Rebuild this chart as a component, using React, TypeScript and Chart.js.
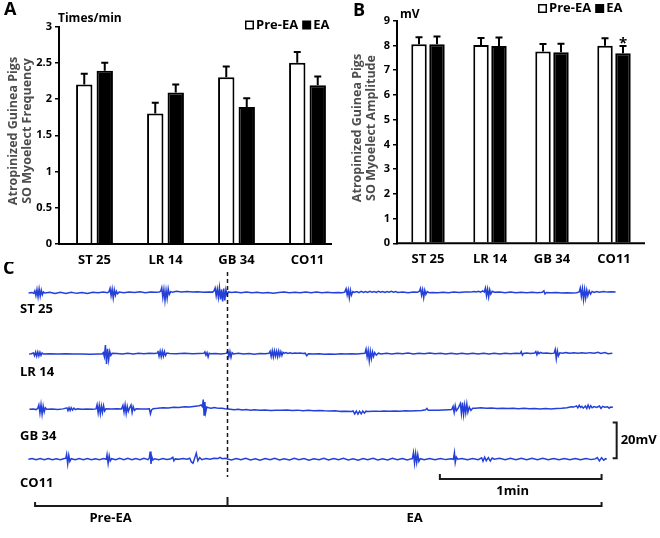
import React, { useEffect, useRef } from 'react';
import { Chart, registerables } from 'chart.js';

Chart.register(...registerables);

const FONT = "'Open Sans', 'DejaVu Sans', sans-serif";

// ---------- Panels A & B data ----------
const SITES = ['ST 25', 'LR 14', 'GB 34', 'CO11'];
const SERIES = ['Pre-EA', 'EA'];

const FREQ_PRE = [2.2, 1.8, 2.3, 2.5];
const FREQ_EA = [2.39, 2.09, 1.89, 2.19];
const FREQ_PRE_ERR = [0.15, 0.15, 0.15, 0.15];
const FREQ_EA_ERR = [0.11, 0.11, 0.12, 0.12];
const FREQ_MAX = 3;
const FREQ_STEP = 0.5;
const FREQ_TITLE = ['Atropinized Guinea Pigs', 'SO Myoelect Frequency'];
const FREQ_UNIT = 'Times/min';

const AMP_PRE = [8.05, 8.02, 7.75, 7.99];
const AMP_EA = [8.05, 7.98, 7.72, 7.68];
const AMP_PRE_ERR = [0.28, 0.28, 0.31, 0.3];
const AMP_EA_ERR = [0.31, 0.34, 0.35, 0.3];
const AMP_SIG = [false, false, false, true];
const AMP_MAX = 9;
const AMP_STEP = 1;
const AMP_TITLE = ['Atropinized Guinea Pigs', 'SO Myoelect Amplitude'];
const AMP_UNIT = 'mV';

// ---------- Panel C data (time in s, voltage in mV relative to each baseline) ----------
const TRACE_NAMES = ['ST 25', 'LR 14', 'GB 34', 'CO11'];
const TRACE_OFFSETS = [0, -34.3, -65.3, -93.4];
const EA_ONSET = 0;
const PRE_START = -71.4;
const EA_END = 138.8;
const TIME_BAR_S = 60;
const VOLT_BAR_MV = 20;

const TRACE_ST25: [number, number][] = [
  [-73.8, 0], [-72.6, 0.3], [-71.9, -0.2],
  [-71.5, 1.2], [-71.1, -1.5], [-70.7, 2.0], [-70.3, -2.2], [-69.9, 2.3], [-69.5, -1.8], [-69.1, 1.6], [-68.7, -1.0], [-68.3, 0.6], [-67.8, 0],
  [-66, 0.4], [-64, -0.3], [-62, 0.4], [-60, -0.3], [-58, 0.4], [-56, -0.2], [-54, 0.3], [-52, -0.3], [-50, 0.4], [-48, 0.1], [-46, 0.5], [-44.6, 0.2],
  [-44, 0.6], [-43.6, 2.6], [-43.2, -1.5], [-42.8, 2.2], [-42.4, -2.8], [-42, 1.8], [-41.6, -1.2], [-41.2, 1.0], [-40.8, -0.4], [-40.2, 0.5],
  [-38.5, 0.2], [-36.5, 0.6], [-34.5, 0.3], [-32.5, 0.7], [-30.5, 0.2], [-28.5, 0.6], [-26.5, 0.4], [-25.3, 0.5],
  [-24.8, 1.0], [-24.4, 3.0], [-24, -2.5], [-23.6, 2.0], [-23.2, -4.2], [-22.8, 1.5], [-22.4, -3.0], [-22, 2.4], [-21.6, -0.8], [-21.1, 0.8], [-20.4, 0.5],
  [-19, 1.0], [-17, 0.6], [-15, 0.9], [-13, 0.5], [-11, 0.7], [-9, 0.4], [-7, 0.6], [-5.5, 0.5],
  [-5, 1.2], [-4.6, 2.8], [-4.2, -1.5], [-3.8, 2.2], [-3.4, -2.5], [-3, 3.0], [-2.6, -3.6], [-2.2, 2.0], [-1.8, -4.8], [-1.4, 2.5], [-1, -4.2], [-0.6, 1.8], [-0.2, -1.0], [0.3, 0.6],
  [1.5, 0.3], [3, 0.6], [5, 0.2], [7, 0.5], [9, 0.2], [11, 0.4], [13, 0], [15, 0.3], [17, -0.1], [19, 0.3], [21, 0.5], [23, 0.1], [25, 0.4], [27, 0.1], [29, 0.5], [31, 0.2], [33, 0.5], [35, 0.1], [37, 0.4], [39, 0.1], [41, 0.3], [42.5, 0.1],
  [43.5, 0.5], [44, 2.4], [44.4, -1.0], [44.8, 1.8], [45.2, -2.8], [45.6, 1.6], [46, -1.2], [46.5, 0.8], [47, 0.3],
  [48, 0.8], [48.8, 0.2], [49.6, 0.9], [50.4, 0.3], [51.2, 0.8], [52, 0.3], [52.8, 0.9], [53.6, 0.4], [54.4, 0.8], [55.2, 0.3], [56, 0.9], [56.8, 0.4], [57.6, 0.8], [58.4, 0.3], [59.2, 0.8], [60, 0.4], [60.8, 0.9], [61.6, 0.4], [62.4, 0.8], [63.2, 0.3],
  [65, 0.5], [67, 0.2], [69, 0.5],
  [70.5, 0.4], [71.2, 1.0], [71.6, 2.6], [72, -1.2], [72.4, 1.8], [72.8, -2.6], [73.2, 1.5], [73.6, -0.8], [74.1, 0.8], [74.8, 0.2],
  [76, 0.3], [78, 0.1], [80, 0.4], [82, 0.2], [84, 0.5], [86, 0.3], [88, 0.6], [90, 0.5], [91.5, 0.9],
  [92.3, 0.6], [93.1, 1.0], [93.9, 0.5], [94.7, 1.2], [95.3, 0.6], [95.7, 2.8], [96.1, -1.5], [96.5, 2.2], [96.9, -2.2], [97.3, 1.8], [97.7, -0.6], [98.2, 1.0], [99, 0.4],
  [101, 0.6], [103, 0.2], [105, 0.5], [107, 0.1], [109, 0.4], [111, 0.1], [113, 0.4], [115, 0.1], [116.8, 0.4], [117.4, 1.2], [117.8, -0.5], [118.3, 0.3], [120, 0.1], [122, 0.3], [124, 0], [126, 0.2], [128, 0], [129.5, 0.2],
  [130.5, 0.6], [130.9, 2.8], [131.3, -1.8], [131.7, 2.4], [132.1, -3.6], [132.5, 2.0], [132.9, -2.8], [133.3, 1.6], [133.7, -1.5], [134.2, 1.2], [134.7, -0.6], [135.3, 0.9], [136, 0.3], [137, 0.8], [138, 0.4], [139.5, 0.9], [141, 0.5], [142.5, 0.7], [144, 0.6],
];

const TRACE_LR14: [number, number][] = [
  [-73.6, 0], [-72.8, 0.2],
  [-72, 0.6], [-71.6, -0.9], [-71.2, 1.1], [-70.8, -1.2], [-70.4, 1.2], [-70, -1.1], [-69.6, 1.0], [-69.2, -0.8], [-68.8, 0.6], [-68.3, 0],
  [-66, 0.2], [-63, 0], [-60, 0.2], [-57, 0], [-54, 0.1], [-51, -0.1], [-48, 0.1], [-46.5, 0],
  [-46.1, 0.8], [-45.7, -1.5], [-45.3, 5.0], [-44.9, -5.5], [-44.5, 3.0], [-44.1, -3.2], [-43.7, 1.5], [-43.3, -0.8], [-42.8, 0.4],
  [-41, 0.3], [-39, 0.1], [-37, 0.4], [-35, 0.1], [-33, 0.4], [-31, 0.2], [-29, 0.5], [-27, 0.3], [-26, 0.6],
  [-25.8, 1.8], [-25.4, -1.2], [-25, 1.6], [-24.6, -1.5], [-24.2, 1.7], [-23.8, -1.2], [-23.4, 1.4], [-23, -0.8], [-22.5, 0.6], [-21.5, 0.3],
  [-19, 0.2], [-16, 0.4], [-13, 0.2], [-10.5, 0.3],
  [-8.8, 0.4], [-8.4, 1.2], [-8, -0.6], [-7.6, 0.8], [-7.2, -1.6], [-6.8, 0.5], [-6.3, 0.2],
  [-4.5, 0.3], [-2.5, 0.1], [-1, 0.3],
  [-0.3, 0.5], [0.1, 1.8], [0.5, -1.5], [0.9, 1.4], [1.3, -1.8], [1.7, 0.8], [2.2, 0.1],
  [4, 0.4], [6, 0], [8, 0.3], [10, -0.1], [12, 0.3], [14, 0.2],
  [15.4, 0.4], [15.8, 1.6], [16.2, -1.4], [16.6, 1.9], [17, -1.6], [17.4, 1.8], [17.8, -1.2], [18.2, 1.6], [18.6, -1.5], [19, 1.7], [19.4, -1.0], [19.8, 1.4], [20.2, -0.8], [20.6, 1.0], [21, 0.4],
  [21.6, 0.8], [22.4, 0.3], [23.2, 0.7], [24, 0.3], [25, 0.6], [26, 0.4], [27, 0.6], [28, 0.3], [28.8, 0.5], [29.4, -0.9], [30, 0.2],
  [32, 0], [34, 0.2], [36, -0.1], [38, 0.1], [40, -0.1], [42, 0.2], [44, 0], [46, 0.2], [48, 0.1], [50, 0.3],
  [51, 0.4], [51.4, 2.8], [51.8, -1.5], [52.2, 2.0], [52.6, -3.8], [53, 1.6], [53.4, -2.5], [53.8, 1.2], [54.2, -1.4], [54.6, 0.8], [55.2, -0.6], [56, 0.5], [57, 0.1],
  [59, 0.5], [61, 0.1], [63, 0.5], [65, 0.2], [67, 0.6], [69, 0.1], [71, 0.5], [73, 0.2], [75, 0.6], [77, 0.2], [79, 0.5], [81, 0.1], [83, 0.5], [85, 0], [87, 0.4], [89, 0.1], [91, 0.5], [93, 0.1], [95, 0.4], [97, 0], [99, 0.4], [101, 0.1], [103, 0.5], [105, 0.2], [107, 0.5],
  [108.6, 0.3], [109, 1.4], [109.4, -0.6], [109.8, 0.3], [111, 0.6], [112.5, 0.3],
  [114, 0.6], [114.4, 1.4], [114.8, -0.4], [115.2, 1.2], [115.6, 0.2], [116.2, 0.9], [117, 0.4], [118.5, 0.6], [119.8, 0.3],
  [121.2, 0.5], [121.6, 2.6], [122, -2.6], [122.4, 1.8], [122.8, -1.0], [123.3, 0.7], [124.3, 0.4], [125.5, 0.8], [127, 0.5], [128.5, 0.7], [130, 0.4], [131.5, 0.7], [133, 0.4], [134.5, 0.8], [136, 0.5], [137.5, 1.0], [138.5, 0.3], [140, 0.8], [141.2, 0.2], [142.8, 0.4],
];

const TRACE_GB34: [number, number][] = [
  [-73.5, 0], [-72, 0.1], [-71, -0.2],
  [-70.4, 0.5], [-70, 2.4], [-69.6, -2.2], [-69.2, 2.6], [-68.8, -2.8], [-68.4, 1.8], [-68, -1.5], [-67.6, 0.8], [-67.1, 0],
  [-65, 0.2], [-63, -0.1], [-61, 0.2],
  [-59.6, 0.8], [-59.2, -0.8], [-58.8, 0.9], [-58.4, -0.7], [-58, 0.8], [-57.5, -0.5], [-57, 0.6], [-56.4, -0.2], [-55.7, 0.2],
  [-54, 0], [-52, 0.2], [-50, 0], [-48.8, 0.2],
  [-48.4, 2.6], [-48, -2.0], [-47.6, 2.2], [-47.2, -2.6], [-46.8, 1.8], [-46.4, -1.8], [-46, 2.0], [-45.6, -1.0], [-45.1, 0.3],
  [-43, 0.1], [-41, 0.3], [-39.3, 0.2],
  [-38.8, 2.2], [-38.4, -1.6], [-38, 2.5], [-37.6, -2.4], [-37.2, 1.6], [-36.8, -1.2], [-36.3, 0.8], [-35.8, 2.4], [-35.4, -1.8], [-35, 1.5], [-34.5, -0.6], [-33.9, 0.3],
  [-32, 0.2], [-30, 0.1], [-29, 0.2],
  [-28.6, -2.6], [-28.2, -0.4], [-27.6, 0.3],
  [-26, 0.5], [-24, 0.9], [-22, 0.7], [-20, 1.1], [-18, 1.0], [-16, 1.4], [-14, 1.3], [-12, 1.7], [-10.5, 2.0], [-9.8, 2.4],
  [-9.3, 1.5], [-9, 5.4], [-8.7, -3.2], [-8.4, 4.0], [-8.1, -1.8], [-7.7, 1.2], [-7, 0.8], [-6, 0.6], [-5, 1.0], [-4, 0.7], [-3, 0.5], [-2, 0.6], [-1, 0.3], [0, 0.2],
  [1, 0], [2.5, -0.3], [4, 0], [5.5, -0.4], [7, -0.2], [8.5, -0.5], [10, -0.3], [12, -0.6], [14, -0.4], [16, -0.7], [18, -0.5], [20, -0.6], [22, -0.4], [24, -0.7], [26, -0.5], [28, -0.8], [30, -0.6], [32, -0.9], [34, -0.7], [36, -0.9], [38, -1.0], [40, -0.9], [42, -1.2], [44, -1.1], [46, -1.3],
  [46.6, -1.0], [47.2, -2.6], [47.8, -1.0], [48.4, -2.8], [49, -1.1], [49.6, -2.6], [50.2, -1.0], [50.8, -2.2], [51.4, -1.1], [52, -1.3],
  [54, -1.1], [56, -1.2], [58, -1.0], [60, -1.1], [62, -1.0], [64, -1.1], [66, -0.9], [68, -1.0], [70, -0.8], [72, -0.7], [73.5, -0.3], [74, 0.5], [74.5, -0.6], [76, -0.6], [78, -0.5], [80, -0.4], [82, -0.3], [83.2, -0.2],
  [83.7, 1.6], [84.1, -1.8], [84.5, 2.0], [84.9, -0.8], [85.6, 0.6], [86.4, 3.2], [86.8, -2.4], [87.2, 3.7], [87.6, -3.0], [88, 2.4], [88.4, -2.0], [88.8, 3.0], [89.2, -1.6], [89.7, 1.2], [90.3, -0.6], [91, 0.6],
  [92, 0.5], [94, 0.8], [96, 0.5], [98, 0.7], [100, 0.4], [102, 0.6], [104, 0.4], [106, 0.6], [108, 0.3], [110, 0.5], [112, 0.3], [114, 0.4], [116, 0.2], [118, 0.4], [120, 0.2], [122, 0.4], [124, 0.5], [126, 0.9], [127.5, 1.4], [128.5, 1.2],
  [129.5, 1.9], [130, 0.8], [130.5, 2.2], [131, 1.0], [131.5, 1.6], [132, 0.6], [132.8, 1.8], [133.3, 0.4], [133.8, 2.4], [134.3, 0.6], [134.8, 2.0], [135.3, 0.8], [136, 1.5], [137, 1.0], [138, 1.8], [138.6, 0.4], [139.2, 1.6], [140, 1.1], [141, 1.4], [141.6, 0.6], [142.2, 1.3], [143, 1.1],
];

const TRACE_CO11: [number, number][] = [
  [-73.9, 0], [-72.5, 0.4], [-71, -0.3], [-69.5, 0.4], [-68, -0.2], [-66.5, 0.4], [-65, -0.3], [-63.5, 0.3], [-62, -0.2], [-60.5, 0.4],
  [-60, 0.6], [-59.7, 2.8], [-59.3, -2.6], [-58.9, 2.2], [-58.5, -1.2], [-58, 0.3],
  [-56.5, -0.3], [-55, 0.4], [-53.5, -0.2], [-52, 0.4], [-50.5, -0.3], [-49, 0.3], [-47.5, -0.2], [-46, 0.4], [-45, 0],
  [-44.7, 2.6], [-44.3, -2.4], [-43.9, 2.0], [-43.5, -1.0], [-43, 0.3],
  [-41.5, -0.3], [-40, 0.5], [-38.5, -0.2], [-37, 0.5], [-35.5, -0.3], [-34, 0.4], [-32.5, -0.2], [-31, 0.5], [-29.5, -0.2],
  [-29, 0.8], [-28.7, 4.3], [-28.4, -2.6], [-28.1, 1.5], [-27.7, -0.4], [-27, 0.3],
  [-25.5, -0.2], [-24, 0.4], [-22.5, -0.1], [-21, 0.3], [-20.3, 1.1], [-19.9, -0.9], [-19.4, 0.2], [-18, 0], [-16.5, 0.4], [-15, 0],
  [-14, 0.6], [-13.4, -1.5], [-12.8, -2.2], [-12.2, 0.5], [-11.6, 3.4], [-11, -0.8], [-10.3, 0.9], [-9.5, -0.2], [-8, 0.4], [-6.5, 0], [-5, 0.5], [-3.5, 0.4], [-2.8, 1.1], [-2, 0.3], [-0.8, 0.5], [0, 0.2],
  [1.5, -0.4], [3.2, 0.4], [5, -0.3], [6.8, 0.5], [8.5, -0.4], [10.4, 0.3], [12, -0.5], [14, 0.4], [15.8, -0.3], [17.5, 0.5], [19.3, -0.4], [21, 0.3], [23, -0.4], [24.8, 0.5], [26.5, -0.3], [28.4, 0.4], [30.2, -0.5], [32, 0.3], [34, -0.3], [35.7, 0.5], [37.5, -0.4], [39.4, 0.4], [41.2, -0.3], [43, 0.5], [44.8, -0.4], [46.6, 0.3], [48.5, -0.5], [50.3, 0.4], [52, -0.3], [54, 0.5], [55.8, -0.4], [57.6, 0.3], [59.4, -0.4], [61.2, 0.5], [63, -0.3], [64.9, 0.4], [66.7, -0.4], [68, 0.2],
  [68.6, 0.4], [69, 3.7], [69.4, -2.2], [69.8, 3.2], [70.2, -1.8], [70.6, 2.6], [71, -1.2], [71.5, 0.3],
  [73, -0.3], [75, 0.4], [77, -0.3], [79, 0.4], [81, -0.2], [83, 0.3], [83.8, 0],
  [84.2, 3.7], [84.5, -1.9], [84.9, 1.2], [85.4, 0],
  [87, 0.4], [89, -0.3], [91, 0.4], [93, -0.2], [94.3, 0.8], [94.8, -1.1], [95.4, 1.2], [96, -0.8], [96.8, 0.9], [97.5, -1.0], [98.2, 0.7], [99, 0],
  [101, 0.5], [103, -0.3], [105, 0.6], [107, -0.3], [109, 0.5], [111, -0.2], [113, 0.5], [115, -0.3], [117, 0.5], [119, -0.3], [121, 0.4], [123, -0.3], [125, 0.4], [127, -0.2], [129, 0.4], [131, -0.3], [133, 0.4], [135, -0.2], [136.5, 0.2],
  [137.2, 1.0], [138, -0.9], [138.8, 0.9], [139.6, -0.5], [140.3, 0.3], [140.7, 0],
];

const TRACES = [TRACE_ST25, TRACE_LR14, TRACE_GB34, TRACE_CO11];

// ---------- helpers ----------
const bold = (size: number) => `bold ${size}px ${FONT}`;

type BarPanel = {
  pre: number[];
  ea: number[];
  preErr: number[];
  eaErr: number[];
  sig: boolean[];
  max: number;
  step: number;
  title: string[];
  unit: string;
  letter: string;
  top: number;
  axisW: number;
  axisH: number;
  padRight: number;
  axisEnd: number | null;
  catPct: number;
  barPct: number;
  titleX: number;
  titleY: number;
  unitX: number;
  unitY: number;
  legX: number;
  legY: number;
  letterX: number;
  letterY: number;
};

function barConfig(p: BarPanel): any {
  const decor = {
    id: 'barDecor',
    afterDatasetsDraw(chart: any) {
      const { ctx, chartArea } = chart;
      const y = chart.scales.y;
      ctx.save();
      const errs = [p.preErr, p.eaErr];
      ctx.strokeStyle = '#000';
      ctx.lineWidth = 2;
      chart.data.datasets.forEach((ds: any, di: number) => {
        const meta = chart.getDatasetMeta(di);
        meta.data.forEach((el: any, i: number) => {
          const v = ds.data[i] as number;
          const top = y.getPixelForValue(v + errs[di][i]);
          ctx.beginPath();
          ctx.moveTo(el.x, el.y);
          ctx.lineTo(el.x, top);
          ctx.moveTo(el.x - 3.5, top);
          ctx.lineTo(el.x + 3.5, top);
          ctx.stroke();
          if (di === 1 && p.sig[i]) {
            ctx.fillStyle = '#000';
            ctx.font = bold(15);
            ctx.textAlign = 'center';
            ctx.textBaseline = 'alphabetic';
            ctx.fillText('*', el.x, top + 2);
          }
        });
      });
      ctx.beginPath();
      ctx.moveTo(chartArea.left - 1, chartArea.bottom);
      ctx.lineTo(p.axisEnd ?? chartArea.right, chartArea.bottom);
      ctx.stroke();
      ctx.fillStyle = '#4d4d4d';
      ctx.font = bold(12.5);
      ctx.textAlign = 'center';
      ctx.textBaseline = 'middle';
      p.title.forEach((line, li) => {
        ctx.save();
        ctx.translate(p.titleX + li * 14, p.titleY);
        ctx.rotate(-Math.PI / 2);
        ctx.fillText(line, 0, 0);
        ctx.restore();
      });
      ctx.fillStyle = '#000';
      ctx.font = bold(12);
      ctx.textAlign = 'left';
      ctx.fillText(p.unit, p.unitX, p.unitY);
      ctx.font = bold(13);
      let lx = p.legX;
      SERIES.forEach((name, si) => {
        const s = 9;
        if (si === 0) {
          ctx.fillStyle = '#fff';
          ctx.fillRect(lx, p.legY - s / 2, s, s);
          ctx.lineWidth = 1.5;
          ctx.strokeRect(lx + 0.75, p.legY - s / 2 + 0.75, s - 1.5, s - 1.5);
        } else {
          ctx.fillStyle = '#000';
          ctx.fillRect(lx, p.legY - s / 2, s, s);
        }
        lx += s + 2;
        ctx.fillStyle = '#000';
        ctx.fillText(name, lx, p.legY);
        lx += ctx.measureText(name).width + 4;
      });
      ctx.font = bold(18);
      ctx.fillText(p.letter, p.letterX, p.letterY);
      ctx.restore();
    },
  };

  return {
    type: 'bar',
    data: {
      labels: SITES,
      datasets: [
        { label: SERIES[0], data: p.pre, backgroundColor: '#fff', borderColor: '#000', borderWidth: 2 },
        { label: SERIES[1], data: p.ea, backgroundColor: '#000', borderColor: '#000', borderWidth: 2 },
      ],
    },
    options: {
      responsive: false,
      animation: false,
      events: [],
      layout: { padding: { top: p.top, right: p.padRight, left: 0, bottom: 0 } },
      plugins: { legend: { display: false }, tooltip: { enabled: false } },
      datasets: { bar: { categoryPercentage: p.catPct, barPercentage: p.barPct } },
      scales: {
        x: {
          grid: { display: false, drawTicks: false },
          border: { display: false },
          ticks: { font: { family: FONT, size: 13, weight: 'bold' }, color: '#000', padding: 8, maxRotation: 0 },
          afterFit: (s: any) => {
            s.height = p.axisH;
          },
        },
        y: {
          min: 0,
          max: p.max,
          ticks: {
            stepSize: p.step,
            font: { family: FONT, size: 11, weight: 'bold' },
            color: '#000',
            padding: 3,
            callback: (v: any) => String(Number(v)),
          },
          grid: { drawOnChartArea: false, drawTicks: true, tickLength: 4, color: '#000', lineWidth: 1.5 },
          border: { display: true, color: '#000', width: 2 },
          afterFit: (s: any) => {
            s.width = p.axisW;
          },
        },
      },
    },
    plugins: [decor],
  };
}

// Panel C: scale ranges so that 60 s = 161.7 px and 20 mV = 35.6 px
const X_MIN = -84.42;
const X_MAX = 160.48;
const Y_MIN = -137.64;
const Y_MAX = 17.42;

function traceConfig(): any {
  const decor = {
    id: 'traceDecor',
    afterDraw(chart: any) {
      const { ctx } = chart;
      const x = chart.scales.x;
      const y = chart.scales.y;
      ctx.save();
      ctx.strokeStyle = '#1a1a1a';
      ctx.fillStyle = '#000';
      const x0 = x.getPixelForValue(EA_ONSET);
      ctx.setLineDash([4, 3]);
      ctx.lineWidth = 1.5;
      ctx.beginPath();
      ctx.moveTo(x0, 10);
      ctx.lineTo(x0, 215);
      ctx.stroke();
      ctx.setLineDash([]);
      ctx.font = bold(13);
      ctx.textAlign = 'left';
      ctx.textBaseline = 'middle';
      const labelY = [47.3, 110.3, 174.7, 221.3];
      TRACE_NAMES.forEach((n, i) => ctx.fillText(n, 20, labelY[i]));
      ctx.lineWidth = 2;
      const vx = x.getPixelForValue(144.4);
      const vb = y.getPixelForValue(TRACE_OFFSETS[3] + 0.6);
      const vt = y.getPixelForValue(TRACE_OFFSETS[3] + 0.6 + VOLT_BAR_MV);
      ctx.beginPath();
      ctx.moveTo(vx - 4, vt);
      ctx.lineTo(vx, vt);
      ctx.lineTo(vx, vb);
      ctx.lineTo(vx - 4, vb);
      ctx.stroke();
      ctx.fillText(`${VOLT_BAR_MV}mV`, vx + 4, (vt + vb) / 2);
      const t1 = x.getPixelForValue(EA_END - TIME_BAR_S);
      const t2 = x.getPixelForValue(EA_END);
      ctx.beginPath();
      ctx.moveTo(t1, 212);
      ctx.lineTo(t1, 217);
      ctx.lineTo(t2, 217);
      ctx.lineTo(t2, 212);
      ctx.stroke();
      ctx.textAlign = 'center';
      ctx.fillText('1min', (t1 + t2) / 2 - 8, 229);
      const b1 = x.getPixelForValue(PRE_START);
      const b2 = x.getPixelForValue(EA_END);
      ctx.beginPath();
      ctx.moveTo(b1, 240);
      ctx.lineTo(b1, 244);
      ctx.lineTo(b2, 244);
      ctx.lineTo(b2, 240);
      ctx.moveTo(x0, 244);
      ctx.lineTo(x0, 235);
      ctx.stroke();
      ctx.fillText('Pre-EA', x.getPixelForValue(-43.4), 256);
      ctx.fillText('EA', (x0 + b2) / 2, 256);
      ctx.textAlign = 'left';
      ctx.font = bold(18);
      ctx.fillText('C', 3, 7);
      ctx.restore();
    },
  };
  return {
    type: 'scatter',
    data: {
      datasets: TRACES.map((tr, i) => ({
        label: TRACE_NAMES[i],
        data: tr.map(([t, v]) => ({ x: t, y: v + TRACE_OFFSETS[i] })),
        showLine: true,
        borderColor: '#2440d8',
        borderWidth: 1.5,
        pointRadius: 0,
        tension: 0,
      })),
    },
    options: {
      responsive: false,
      animation: false,
      events: [],
      layout: { padding: 0 },
      plugins: { legend: { display: false }, tooltip: { enabled: false } },
      scales: {
        x: { type: 'linear', display: false, min: X_MIN, max: X_MAX },
        y: { type: 'linear', display: false, min: Y_MIN, max: Y_MAX },
      },
    },
    plugins: [decor],
  };
}

export default function App() {
  const aRef = useRef<HTMLCanvasElement>(null);
  const bRef = useRef<HTMLCanvasElement>(null);
  const cRef = useRef<HTMLCanvasElement>(null);

  useEffect(() => {
    const charts: Chart[] = [];
    charts.push(
      new Chart(
        aRef.current!,
        barConfig({
          pre: FREQ_PRE, ea: FREQ_EA, preErr: FREQ_PRE_ERR, eaErr: FREQ_EA_ERR, sig: [false, false, false, false],
          max: FREQ_MAX, step: FREQ_STEP, title: FREQ_TITLE, unit: FREQ_UNIT, letter: 'A',
          top: 26.5, axisW: 59, axisH: 26, padRight: 2, axisEnd: 332, catPct: 0.577, barPct: 0.8,
          titleX: 13.5, titleY: 131, unitX: 58, unitY: 18.5, legX: 245, legY: 25, letterX: 4, letterY: 10,
        })
      )
    );
    charts.push(
      new Chart(
        bRef.current!,
        barConfig({
          pre: AMP_PRE, ea: AMP_EA, preErr: AMP_PRE_ERR, eaErr: AMP_EA_ERR, sig: AMP_SIG,
          max: AMP_MAX, step: AMP_STEP, title: AMP_TITLE, unit: AMP_UNIT, letter: 'B',
          top: 20.7, axisW: 67, axisH: 26.7, padRight: 15, axisEnd: null, catPct: 0.58, barPct: 0.86,
          titleX: 27.5, titleY: 128, unitX: 70, unitY: 15, legX: 208, legY: 8.5, letterX: 23, letterY: 11,
        })
      )
    );
    charts.push(new Chart(cRef.current!, traceConfig()));
    return () => charts.forEach((c) => c.destroy());
  }, []);

  return (
    <div style={{ position: 'absolute', left: 0, top: 0, width: 660, height: 538, background: '#fff', overflow: 'hidden' }}>
      <canvas ref={aRef} width={345} height={270} style={{ position: 'absolute', left: 0, top: 0 }} />
      <canvas ref={bRef} width={330} height={270} style={{ position: 'absolute', left: 330, top: 0 }} />
      <canvas ref={cRef} width={660} height={276} style={{ position: 'absolute', left: 0, top: 262 }} />
    </div>
  );
}
